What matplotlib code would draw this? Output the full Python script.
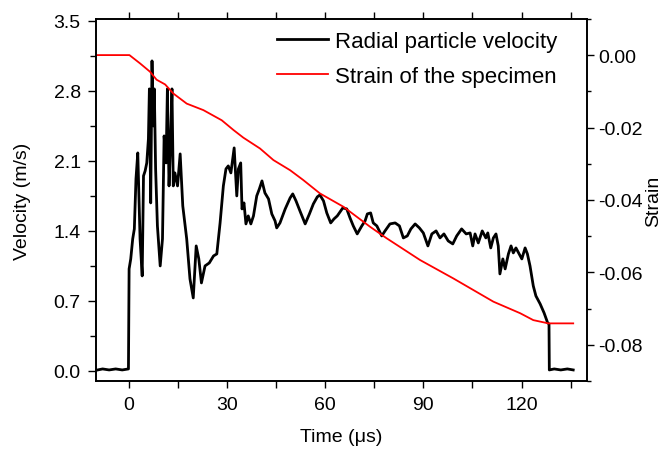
import matplotlib
matplotlib.use('Agg')
import matplotlib.pyplot as plt
from matplotlib.ticker import MultipleLocator

plt.rcParams['font.family'] = ['Liberation Sans', 'DejaVu Sans']

# radial particle velocity (m/s)
time_v = [-9.5, -8, -6, -4, -2, -0.1, 0.1, 0.6, 1.2, 1.7,
          2.2, 2.75, 3.45, 4.1, 4.5, 5.0, 5.5, 6.0, 6.3, 6.7,
          7.1, 7.5, 7.8, 8.2, 8.75, 9.6, 10.3, 10.8, 11.4, 11.8,
          12.3, 12.8, 13.2, 13.6, 14.1, 14.9, 15.7, 16.5, 17.7, 18.7,
          19.7, 20.6, 21.4, 22.2, 23.3, 24.6, 25.9, 26.9, 27.9, 28.9,
          29.7, 30.4, 31.2, 32.2, 33.0, 33.5, 34.2, 34.6, 35.2, 35.8,
          36.5, 37.3, 38.1, 39.1, 39.9, 40.7, 41.6, 42.7, 43.7, 44.7,
          45.2, 46.2, 47.8, 49.3, 50.1, 51.1, 52.3, 53.9, 55.2, 56.4,
          57.6, 58.4, 59.5, 60.5, 61.7, 62.7, 63.7, 65.4, 66.6, 67.6,
          68.6, 69.8, 71.2, 72.2, 72.9, 73.9, 74.7, 75.8, 77.3, 78.3,
          79.8, 81.4, 82.7, 83.9, 85.1, 86.2, 87.5, 88.8, 90.0, 91.4,
          92.6, 93.9, 95.1, 96.3, 97.6, 99.0, 100.2, 101.7, 103.1, 104.3,
          105.1, 105.8, 106.8, 108.0, 109.1, 109.7, 110.6, 111.4, 112.2, 112.9,
          113.4, 114.3, 115.0, 116.0, 116.8, 117.5, 118.3, 119.3, 120.1, 121.1,
          121.8, 122.6, 123.6, 124.4, 125.7, 126.9, 128.0, 128.4, 128.5, 130,
          132, 134, 135.8]
velocity = [0.01, 0.02, 0.01, 0.02, 0.01, 0.02, 1.02, 1.12, 1.32, 1.42,
            1.92, 2.18, 1.32, 0.95, 1.95, 2.0, 2.08, 2.32, 2.82, 1.68,
            3.10, 2.45, 2.82, 2.02, 1.45, 1.05, 1.32, 2.35, 2.08, 2.82,
            1.85, 2.32, 2.82, 1.85, 1.98, 1.85, 2.17, 1.65, 1.32, 0.92,
            0.73, 1.25, 1.12, 0.88, 1.05, 1.08, 1.15, 1.17, 1.48, 1.85,
            2.02, 2.05, 1.98, 2.23, 1.75, 2.02, 2.08, 1.62, 1.68, 1.47,
            1.55, 1.47, 1.55, 1.75, 1.82, 1.90, 1.78, 1.72, 1.57, 1.50,
            1.43, 1.48, 1.62, 1.73, 1.77, 1.70, 1.60, 1.47, 1.57, 1.67,
            1.74, 1.76, 1.70, 1.58, 1.48, 1.52, 1.55, 1.63, 1.62, 1.53,
            1.45, 1.37, 1.45, 1.50, 1.57, 1.58, 1.48, 1.45, 1.35, 1.40,
            1.47, 1.48, 1.45, 1.33, 1.35, 1.42, 1.47, 1.43, 1.38, 1.25,
            1.37, 1.40, 1.33, 1.37, 1.30, 1.27, 1.35, 1.42, 1.37, 1.38,
            1.25, 1.37, 1.28, 1.40, 1.33, 1.38, 1.23, 1.33, 1.37, 1.25,
            0.97, 1.12, 1.02, 1.17, 1.25, 1.18, 1.23, 1.17, 1.12, 1.23,
            1.17, 1.05, 0.85, 0.75, 0.67, 0.58, 0.48, 0.47, 0.01, 0.02,
            0.01, 0.02, 0.01]

# strain of the specimen
time_s = [-9.5, 0.2, 3.45, 6.5, 8.5, 11.1, 13.6, 17.7, 22.8, 28.4,
          32, 35, 40.1, 44.2, 49.3, 53.3, 58.4, 65.6, 73.7, 78.8,
          89, 99.2, 111.4, 119.6, 123.6, 128.2, 135.8]
strain = [0, 0, -0.0023, -0.0046, -0.0068, -0.0081, -0.0106, -0.0134, -0.0152, -0.018,
          -0.0207, -0.0228, -0.0258, -0.029, -0.0318, -0.0345, -0.0382, -0.0419, -0.0474, -0.0506,
          -0.0566, -0.0617, -0.0681, -0.0713, -0.0732, -0.0741, -0.0741]

fig = plt.figure(figsize=(6.67, 4.52), dpi=100)
ax = fig.add_axes([0.144, 0.155, 0.736, 0.801])
ax2 = ax.twinx()

l1, = ax.plot(time_v, velocity, color='black', lw=2.0, label='Radial particle velocity')
l2, = ax2.plot(time_s, strain, color='red', lw=1.3, label='Strain of the specimen')

ax.set_xlim(-10, 140)
ax.set_ylim(-0.1, 3.52)
ax2.set_ylim(-0.09, 0.01)

ax.xaxis.set_major_locator(MultipleLocator(30))
ax.xaxis.set_minor_locator(MultipleLocator(15))
ax.yaxis.set_major_locator(MultipleLocator(0.7))
ax.yaxis.set_minor_locator(MultipleLocator(0.35))
ax2.yaxis.set_major_locator(MultipleLocator(0.02))
ax2.yaxis.set_minor_locator(MultipleLocator(0.01))
ax.yaxis.set_major_formatter(plt.FormatStrFormatter('%.1f'))
ax2.yaxis.set_major_formatter(plt.FormatStrFormatter('%.2f'))

ax.tick_params(axis='y', which='major', direction='out', length=6, width=1, pad=5, labelsize=14)
ax.tick_params(axis='y', which='minor', direction='out', length=4, width=1)
ax.tick_params(axis='x', which='both', direction='out', length=5, width=1, pad=6,
               labelsize=14, top=True)
ax2.tick_params(axis='y', which='major', direction='out', length=5, width=1, pad=3, labelsize=14)
ax2.tick_params(axis='y', which='minor', direction='out', length=3, width=1)

for a in (ax, ax2):
    for s in a.spines.values():
        s.set_linewidth(1.2)

ax.set_xlabel('Time (\u03bcs)', fontsize=14, labelpad=11)
ax.set_ylabel('Velocity (m/s)', fontsize=14, labelpad=16)
ax2.set_ylabel('Strain', fontsize=14, labelpad=2)

ax2.legend(handles=[l1, l2], loc='upper right', bbox_to_anchor=(0.939, 0.967),
           frameon=False, fontsize=16, handlelength=2.3, handletextpad=0.32,
           labelspacing=0.62, borderpad=0, borderaxespad=0)

fig.savefig('out.png', dpi=100)
